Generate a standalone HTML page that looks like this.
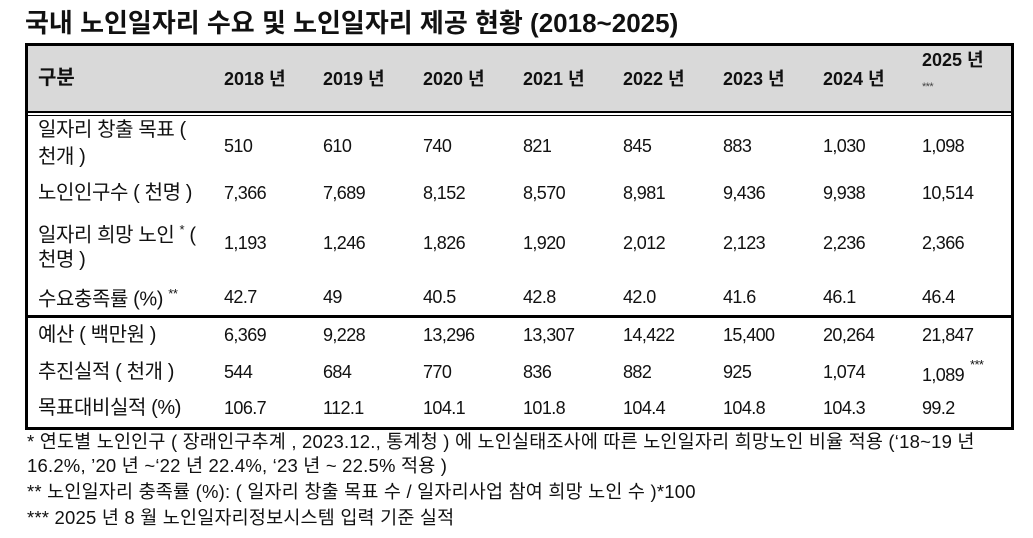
<!DOCTYPE html>
<html><head><meta charset="utf-8"><style>
body{margin:0;width:1033px;height:538px;background:#fff;position:relative;overflow:hidden;font-family:"Liberation Sans","Noto Sans CJK KR",sans-serif;color:#111}
div.t{position:absolute;white-space:nowrap;font-size:18px;letter-spacing:-0.6px;line-height:1}
div.l{font-size:20px;letter-spacing:-0.4px}
.b{font-weight:bold;letter-spacing:0 !important}
.box{position:absolute;left:25px;top:43px;width:983px;height:381px;border:3px solid #000}
.hd{position:absolute;left:28px;top:46px;width:983px;height:65px;background:#d9d9d9}
.hl{position:absolute;left:28px;width:983px;background:#000}
.f{font-size:18.5px !important;letter-spacing:0.2px !important}
</style></head><body>
<div class="t b" style="left:25px;top:10px;font-size:26px">국내 노인일자리 수요 및 노인일자리 제공 현황 (2018~2025)</div>
<div class="hd"></div>
<div class="box"></div>
<div class="hl" style="top:111px;height:2px"></div>
<div class="hl" style="top:115px;height:1px"></div>
<div class="hl" style="top:315px;height:3px"></div>
<div class="t b" style="left:38px;top:68px;font-size:20px">구분</div>
<div class="t b" style="left:224px;top:70px">2018 년</div>
<div class="t b" style="left:323px;top:70px">2019 년</div>
<div class="t b" style="left:423px;top:70px">2020 년</div>
<div class="t b" style="left:523px;top:70px">2021 년</div>
<div class="t b" style="left:623px;top:70px">2022 년</div>
<div class="t b" style="left:723px;top:70px">2023 년</div>
<div class="t b" style="left:823px;top:70px">2024 년</div>
<div class="t b" style="left:922px;top:51px">2025 년</div>
<div class="t" style="left:922px;top:82px;font-size:11px;color:#444">***</div>

<div class="t l" style="left:38px;top:120px">일자리 창출 목표 (</div>
<div class="t l" style="left:38px;top:147px">천개 )</div>
<div class="t l" style="left:38px;top:183px">노인인구수 ( 천명 )</div>
<div class="t l" style="left:38px;top:223px">일자리 희망 노인 <sup style="font-size:13px">*</sup> (</div>
<div class="t l" style="left:38px;top:250px">천명 )</div>
<div class="t l" style="left:38px;top:287px">수요충족률 (%) <sup style="font-size:13px">**</sup></div>
<div class="t l" style="left:38px;top:325px">예산 ( 백만원 )</div>
<div class="t l" style="left:38px;top:362px">추진실적 ( 천개 )</div>
<div class="t l" style="left:38px;top:398px">목표대비실적 (%)</div>

<div id="v"></div>
<script>
var xs=[224,323,423,523,623,723,823,922];
var rows=[[137,["510","610","740","821","845","883","1,030","1,098"]],
[184,["7,366","7,689","8,152","8,570","8,981","9,436","9,938","10,514"]],
[234,["1,193","1,246","1,826","1,920","2,012","2,123","2,236","2,366"]],
[288,["42.7","49","40.5","42.8","42.0","41.6","46.1","46.4"]],
[326,["6,369","9,228","13,296","13,307","14,422","15,400","20,264","21,847"]],
[363,["544","684","770","836","882","925","1,074","1,089"]],
[399,["106.7","112.1","104.1","101.8","104.4","104.8","104.3","99.2"]]];
var h="";rows.forEach(function(r){r[1].forEach(function(v,i){var y=r[0];if(r[0]==363&&i==7)y=366;h+='<div class="t" style="left:'+xs[i]+'px;top:'+y+'px">'+v+'</div>';});});
h+='<div class="t" style="left:970px;top:358px;font-size:13px">***</div>';
document.getElementById("v").innerHTML=h;
</script>

<div class="t f" style="left:27px;top:433px">* 연도별 노인인구 ( 장래인구추계 , 2023.12., 통계청 ) 에 노인실태조사에 따른 노인일자리 희망노인 비율 적용 (‘18~19 년</div>
<div class="t f" style="left:27px;top:457px">16.2%, ’20 년 ~‘22 년 22.4%, ‘23 년 ~ 22.5% 적용 )</div>
<div class="t f" style="left:27px;top:483px">** 노인일자리 충족률 (%): ( 일자리 창출 목표 수 / 일자리사업 참여 희망 노인 수 )*100</div>
<div class="t f" style="left:27px;top:509px">*** 2025 년 8 월 노인일자리정보시스템 입력 기준 실적</div>
</body></html>
